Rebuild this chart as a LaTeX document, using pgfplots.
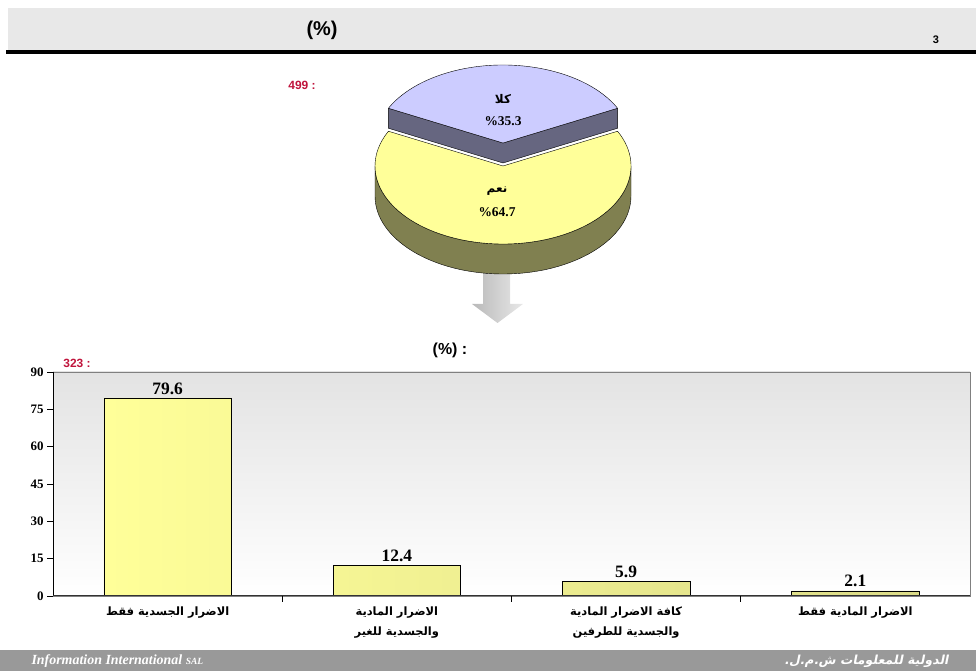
\documentclass[border=0pt]{standalone}
\usepackage{pgfplots}
\pgfplotsset{compat=1.18}
\usetikzlibrary{calc}
\usepackage{fontspec}
\setmainfont{Liberation Serif}
\setsansfont{Liberation Sans}
\newfontfamily\arabicfont[Script=Arabic]{DejaVu Sans}
\newfontfamily\arabicfoot[Script=Arabic, FakeSlant=0.2]{DejaVu Sans Bold}
\TeXXeTstate=1
\definecolor{hdrgray}{HTML}{E8E8E8}
\definecolor{redtxt}{HTML}{C0143C}
\definecolor{pieyel}{HTML}{FFFF99}
\definecolor{pieside}{HTML}{808050}
\definecolor{purtop}{HTML}{CCCCFF}
\definecolor{purside}{HTML}{666680}
\definecolor{barL}{HTML}{FFFF99}
\definecolor{barR}{HTML}{DCDC88}
\definecolor{axbgtop}{HTML}{E3E3E3}
\definecolor{footgray}{HTML}{999999}
\begin{document}
\begin{tikzpicture}[x=1bp,y=1bp]
\path[use as bounding box] (0,0) rectangle (976,671);
% header
\fill[hdrgray] (8,621) rectangle (976,663);
\fill[black] (6,617) rectangle (976,621);
\node[font=\sffamily\bfseries\fontsize{20}{22}\selectfont] at (322,641) {(\%)};
\node[font=\sffamily\bfseries\fontsize{11}{12}\selectfont] at (936,631) {3};
\node[font=\sffamily\bfseries\fontsize{12}{14}\selectfont, text=redtxt] at (302,586) {499 :};
% arrow
\shade[left color=gray!55, right color=gray!18] (483,400) -- (510,400) -- (510,367) -- (523,367) -- (497.5,348) -- (472,367) -- (483,367) -- cycle;
% pie (values in percent)
\def\pNo{35.3}
\pgfmathsetmacro\half{\pNo*3.6/2}
\pgfmathsetmacro\aA{90-\half}
\pgfmathsetmacro\aB{90+\half}
\pgfmathsetmacro\aBm{\aB-360}
% yellow slice (64.7)
\fill[pieside,draw=black,line width=0.4pt] (375,505) arc[start angle=180,end angle=360,x radius=128,y radius=78] -- ++(0,-30) arc[start angle=0,end angle=-180,x radius=128,y radius=78] -- cycle;
\fill[pieyel,draw=black,line width=0.4pt] (503,505) -- ($(503,505)+(\aA:128 and 78)$) arc[start angle=\aA,end angle=\aBm,x radius=128,y radius=78] -- cycle;
% purple slice (35.3), exploded
\fill[purside,draw=black,line width=0.4pt] ($(503,528)+(\aB:128 and 78)$) -- (503,528) -- ($(503,528)+(\aA:128 and 78)$) -- ++(0,-20) -- (503,508) -- ($(503,508)+(\aB:128 and 78)$) -- cycle;
\fill[purtop,draw=black,line width=0.4pt] (503,528) -- ($(503,528)+(\aA:128 and 78)$) arc[start angle=\aA,end angle=\aB,x radius=128,y radius=78] -- cycle;
\node[font=\bfseries\fontsize{12}{13}\selectfont] at (503,572) {\arabicfont\beginR كلا\endR};
\node[font=\bfseries\fontsize{13.5}{14}\selectfont] at (503,550) {\%35.3};
\node[font=\bfseries\fontsize{12}{13}\selectfont] at (497,480) {\arabicfont\beginR نعم\endR};
\node[font=\bfseries\fontsize{13.5}{14}\selectfont] at (497,459) {\%64.7};
% bar chart titles
\node[font=\sffamily\bfseries\fontsize{16}{18}\selectfont] at (450,321) {(\%) :};
\node[font=\sffamily\bfseries\fontsize{12}{14}\selectfont, text=redtxt] at (77,308) {323 :};
\begin{axis}[
  at={(53bp,75bp)}, anchor=south west, scale only axis,
  width=917bp, height=224bp,
  xmin=-0.5, xmax=3.5, ymin=0, ymax=90,
  ytick={0,15,30,45,60,75,90},
  xtick={0,1,2,3},
  xticklabels={
    {\arabicfont\beginR الاضرار الجسدية فقط\endR},
    {\arabicfont\beginR الاضرار المادية\endR\\\arabicfont\beginR والجسدية للغير\endR},
    {\arabicfont\beginR كافة الاضرار المادية\endR\\\arabicfont\beginR والجسدية للطرفين\endR},
    {\arabicfont\beginR الاضرار المادية فقط\endR}},
  xticklabel style={align=center, font=\bfseries\fontsize{11.5}{20}\selectfont, yshift=-1bp},
  yticklabel style={font=\bfseries\fontsize{13}{14}\selectfont},
  /pgf/number format/assume math mode=true,
  tick align=outside, tick pos=left, tickwidth=6bp,
  xtick style={draw=none},
  extra x ticks={0.5,1.5,2.5}, extra x tick labels={},
  extra x tick style={xtick style={draw=black, line width=0.6pt}},
  ytick style={draw=black, line width=0.6pt},
  axis line style={draw=gray, line width=0.8pt},
  axis background/.style={shade, top color=axbgtop, bottom color=white},
  ybar, bar width=0.557,
  nodes near coords,
  every node near coord/.append style={font=\bfseries\fontsize{17.5}{18}\selectfont, /pgf/number format/fixed, /pgf/number format/precision=1, /pgf/number format/fixed zerofill},
]
\addplot[draw=black, line width=0.5pt, left color=barL, right color=barR] coordinates {(0,79.6) (1,12.4) (2,5.9) (3,2.1)};
\draw[black, line width=1pt] (rel axis cs:0,1) -- (rel axis cs:0,0);
\draw[black!80, line width=1.6pt] (rel axis cs:0,0) -- (rel axis cs:1,0);
\end{axis}
% footer
\fill[footgray] (0,0) rectangle (976,21);
\node[anchor=west, text=white, font=\bfseries\itshape\fontsize{14}{15}\selectfont] at (28,10) {Information International {\fontsize{9.5}{10}\selectfont SAL}};
\node[anchor=east, text=white, font=\fontsize{12.5}{13}\selectfont] at (952,10) {\arabicfoot\beginR الدولية للمعلومات ش.م.ل.\endR};
\end{tikzpicture}
\end{document}
